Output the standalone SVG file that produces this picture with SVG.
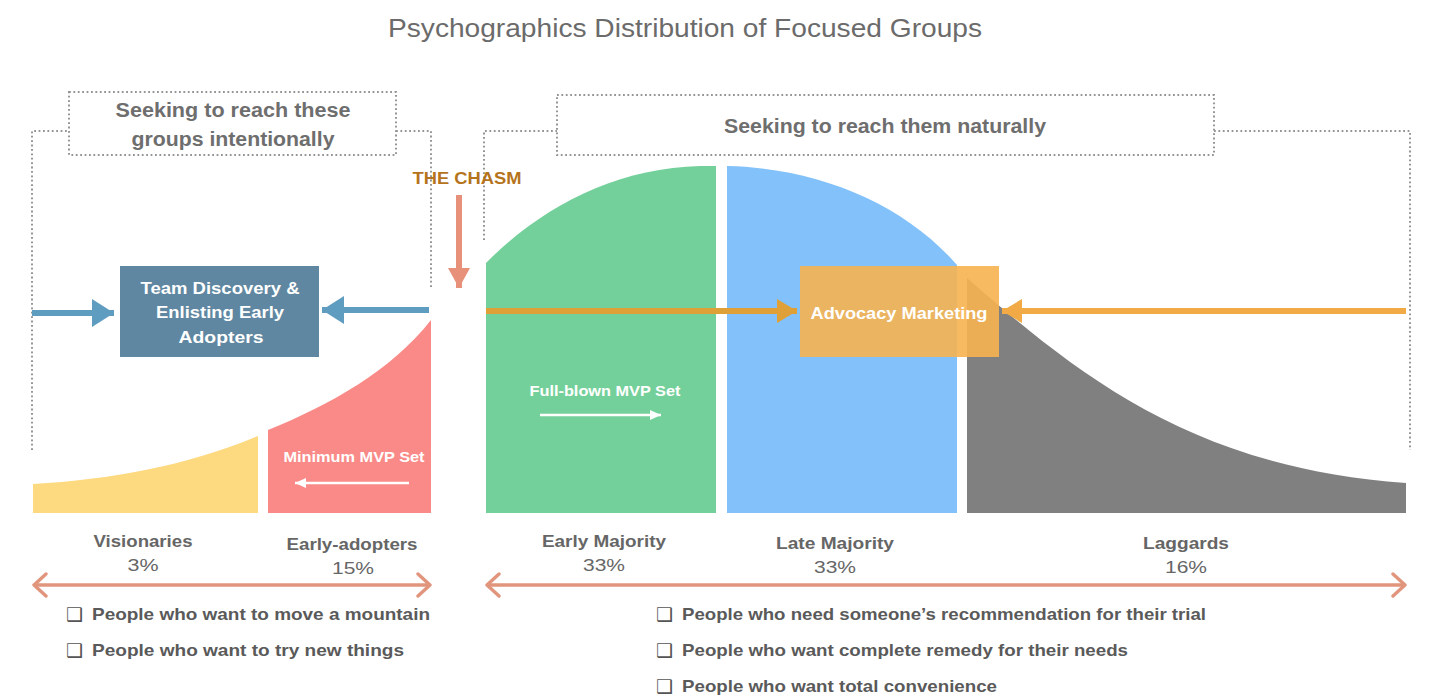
<svg xmlns="http://www.w3.org/2000/svg" width="1430" height="699" viewBox="0 0 1430 699">
<defs>
<style>
.t{font-family:"Liberation Sans",Arial,sans-serif;fill:#6b6b6b}
.ttl{font-size:26px}
.hd{font-size:20px;font-weight:bold;fill:#6e6e6e}
.wb{font-family:"Liberation Sans",Arial,sans-serif;font-weight:bold;fill:#fff}
.lb{font-size:17px;font-weight:bold;fill:#666}
.pc{font-size:17px;fill:#666}
.bl{font-size:17px;font-weight:bold;fill:#5a5a5a}
.cb{font-family:"DejaVu Sans",sans-serif;font-size:19px;fill:#555}
.dot{fill:none;stroke:#959595;stroke-width:2;stroke-dasharray:1.8 2.6}
</style>
<marker id="mBlue" markerUnits="userSpaceOnUse" markerWidth="24" markerHeight="28" refX="22" refY="14" orient="auto"><path d="M0,0 L22,14 L0,28 Z" fill="#5f9dc0"/></marker>
<marker id="mOrL" markerUnits="userSpaceOnUse" markerWidth="22" markerHeight="24" refX="20" refY="12" orient="auto"><path d="M0,0 L20,12 L0,24 Z" fill="#dfa037"/></marker>
<marker id="mOrR" markerUnits="userSpaceOnUse" markerWidth="22" markerHeight="24" refX="20" refY="12" orient="auto"><path d="M0,0 L20,12 L0,24 Z" fill="#f1aa45"/></marker>
<marker id="mSal" markerUnits="userSpaceOnUse" markerWidth="22" markerHeight="22" refX="20" refY="11" orient="auto"><path d="M0,0 L20,11 L0,22 Z" fill="#e8917a"/></marker>
<marker id="mWh" markerUnits="userSpaceOnUse" markerWidth="12" markerHeight="12" refX="11" refY="6" orient="auto"><path d="M0,1 L11,6 L0,11 Z" fill="#fff"/></marker>
<marker id="mCh" markerUnits="userSpaceOnUse" markerWidth="18" markerHeight="26" refX="14" refY="13" orient="auto-start-reverse"><path d="M2,2 L14,13 L2,24" fill="none" stroke="#e0957c" stroke-width="3.4" stroke-linecap="round" stroke-linejoin="round"/></marker>
</defs>
<rect width="1430" height="699" fill="#fff"/>

<text class="t ttl" x="685" y="37" text-anchor="middle" textLength="594" lengthAdjust="spacingAndGlyphs">Psychographics Distribution of Focused Groups</text>

<g id="regions">
<path class="dot" d="M32,450 L32,131 L69,131 M396,131 L431,131 L431,288"/>
<path class="dot" d="M484,240 L484,131 L557,131 M1214,131 L1410,131 L1410,450"/>
</g>

<g id="heading-intentional">
<rect class="dot" x="69" y="92" width="327" height="63"/>
<text class="t hd" x="233" y="117" text-anchor="middle" textLength="235" lengthAdjust="spacingAndGlyphs">Seeking to reach these</text>
<text class="t hd" x="233" y="146" text-anchor="middle" textLength="203" lengthAdjust="spacingAndGlyphs">groups intentionally</text>
</g>

<g id="heading-naturally">
<rect class="dot" x="557" y="95" width="657" height="60"/>
<text class="t hd" x="885" y="133" text-anchor="middle" textLength="322" lengthAdjust="spacingAndGlyphs">Seeking to reach them naturally</text>
</g>

<g id="seg-visionaries">
<path d="M33,513 L33,484 C110,480 190,465 258,436 L258,513 Z" fill="#fdd97f"/>
</g>
<g id="seg-early-adopters">
<path d="M268,513 L268,430 C330,405 392,370 431,320 L431,513 Z" fill="#f98a87"/>
<text class="wb" x="354" y="462" font-size="14" text-anchor="middle" textLength="141" lengthAdjust="spacingAndGlyphs">Minimum MVP Set</text>
</g>
<g id="seg-early-majority">
<path d="M486,513 L486,263 C540,208 615,168 700,166 L716,166 L716,513 Z" fill="#74d09a"/>
<text class="wb" x="605" y="396" font-size="14" text-anchor="middle" textLength="151" lengthAdjust="spacingAndGlyphs">Full-blown MVP Set</text>
</g>
<g id="seg-late-majority">
<path d="M727,513 L727,166 C820,168 905,205 957,265 L957,513 Z" fill="#82c1f9"/>
</g>
<g id="seg-laggards">
<path d="M967,513 L967,278 C1075,372 1190,468 1406,483 L1406,513 Z" fill="#808080"/>
</g>

<g id="chasm">
<text x="467" y="184" font-family="'Liberation Sans',Arial,sans-serif" font-size="17" font-weight="bold" fill="#b5731c" text-anchor="middle" textLength="109" lengthAdjust="spacingAndGlyphs">THE CHASM</text>
</g>

<g id="connectors">
<line x1="459" y1="195" x2="459" y2="288" stroke="#e8917a" stroke-width="6" marker-end="url(#mSal)"/>
<line x1="32" y1="313" x2="114" y2="313" stroke="#5f9dc0" stroke-width="6" marker-end="url(#mBlue)"/>
<line x1="429" y1="310" x2="322" y2="310" stroke="#5f9dc0" stroke-width="6" marker-end="url(#mBlue)"/>
<line x1="486" y1="311" x2="797" y2="311" stroke="#dfa037" stroke-width="6" marker-end="url(#mOrL)"/>
<line x1="1406" y1="311" x2="1002" y2="311" stroke="#f1aa45" stroke-width="6" marker-end="url(#mOrR)"/>
<line x1="409" y1="483" x2="295" y2="483" stroke="#fff" stroke-width="2.5" marker-end="url(#mWh)"/>
<line x1="540" y1="415" x2="661" y2="415" stroke="#fff" stroke-width="2.5" marker-end="url(#mWh)"/>
<line x1="34" y1="585" x2="430" y2="585" stroke="#e0957c" stroke-width="3.4" marker-start="url(#mCh)" marker-end="url(#mCh)"/>
<line x1="487" y1="585" x2="1405" y2="585" stroke="#e0957c" stroke-width="3.4" marker-start="url(#mCh)" marker-end="url(#mCh)"/>
</g>

<g id="team-discovery">
<rect x="120" y="266" width="199" height="91" fill="#5f87a1"/>
<text class="wb" x="220" y="294" font-size="17" text-anchor="middle" textLength="159" lengthAdjust="spacingAndGlyphs">Team Discovery &amp;</text>
<text class="wb" x="220" y="318" font-size="17" text-anchor="middle" textLength="128" lengthAdjust="spacingAndGlyphs">Enlisting Early</text>
<text class="wb" x="221" y="343" font-size="17" text-anchor="middle" textLength="85" lengthAdjust="spacingAndGlyphs">Adopters</text>
</g>

<g id="advocacy-marketing">
<rect x="800" y="266" width="199" height="91" fill="#f6b24f" fill-opacity="0.9"/>
<text class="wb" x="899" y="319" font-size="17" text-anchor="middle" textLength="177" lengthAdjust="spacingAndGlyphs">Advocacy Marketing</text>
</g>

<g id="labels">
<text class="t lb" x="143" y="547" text-anchor="middle" textLength="99" lengthAdjust="spacingAndGlyphs">Visionaries</text>
<text class="t pc" x="143" y="571" text-anchor="middle" textLength="31" lengthAdjust="spacingAndGlyphs">3%</text>
<text class="t lb" x="352" y="550" text-anchor="middle" textLength="131" lengthAdjust="spacingAndGlyphs">Early-adopters</text>
<text class="t pc" x="353" y="574" text-anchor="middle" textLength="42" lengthAdjust="spacingAndGlyphs">15%</text>
<text class="t lb" x="604" y="547" text-anchor="middle" textLength="124" lengthAdjust="spacingAndGlyphs">Early Majority</text>
<text class="t pc" x="604" y="571" text-anchor="middle" textLength="42" lengthAdjust="spacingAndGlyphs">33%</text>
<text class="t lb" x="835" y="549" text-anchor="middle" textLength="118" lengthAdjust="spacingAndGlyphs">Late Majority</text>
<text class="t pc" x="835" y="573" text-anchor="middle" textLength="42" lengthAdjust="spacingAndGlyphs">33%</text>
<text class="t lb" x="1186" y="549" text-anchor="middle" textLength="86" lengthAdjust="spacingAndGlyphs">Laggards</text>
<text class="t pc" x="1186" y="573" text-anchor="middle" textLength="42" lengthAdjust="spacingAndGlyphs">16%</text>
</g>

<g id="bullets-left">
<text class="cb" x="66" y="621">❑</text>
<text class="t bl" x="92" y="620" textLength="338" lengthAdjust="spacingAndGlyphs">People who want to move a mountain</text>
<text class="cb" x="66" y="657">❑</text>
<text class="t bl" x="92" y="656" textLength="312" lengthAdjust="spacingAndGlyphs">People who want to try new things</text>
</g>

<g id="bullets-right">
<text class="cb" x="656" y="621">❑</text>
<text class="t bl" x="682" y="620" textLength="524" lengthAdjust="spacingAndGlyphs">People who need someone’s recommendation for their trial</text>
<text class="cb" x="656" y="657">❑</text>
<text class="t bl" x="682" y="656" textLength="446" lengthAdjust="spacingAndGlyphs">People who want complete remedy for their needs</text>
<text class="cb" x="656" y="693">❑</text>
<text class="t bl" x="682" y="692" textLength="315" lengthAdjust="spacingAndGlyphs">People who want total convenience</text>
</g>
</svg>
